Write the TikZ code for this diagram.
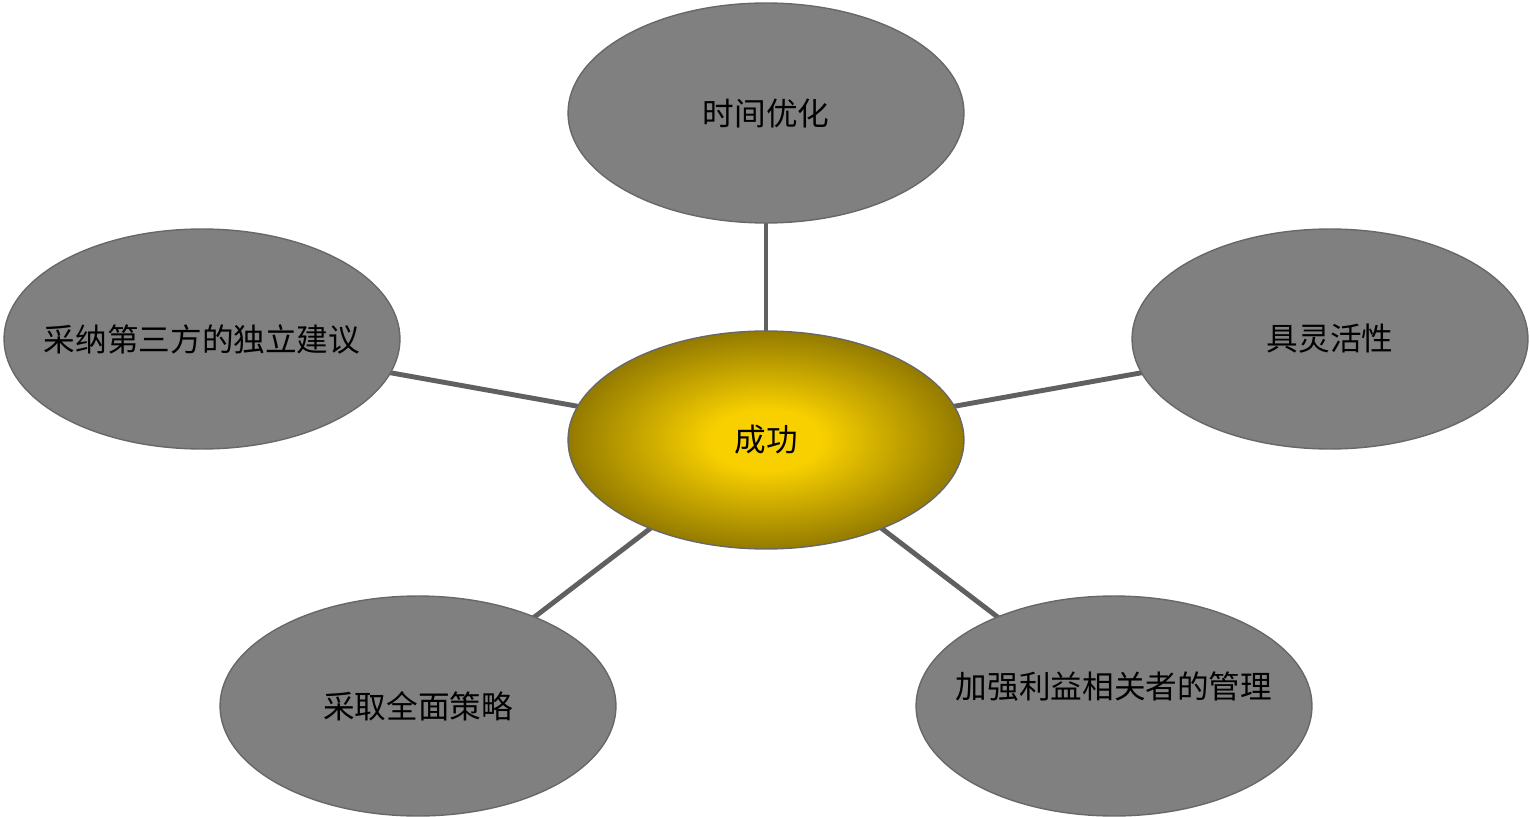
\documentclass[tikz,border=0pt]{standalone}
\usepackage{fontspec}
\newfontfamily\cjk{Noto Sans CJK SC}
\usetikzlibrary{shapes.geometric}
\definecolor{leafgrey}{HTML}{808080}
\definecolor{rimgrey}{HTML}{686868}
\definecolor{linkgrey}{HTML}{606060}
\definecolor{goldcore}{HTML}{F8D000}
\definecolor{goldrim}{HTML}{786300}
\pgfdeclareradialshading{goldglow}{\pgfpoint{0bp}{0bp}}{%
  color(0bp)=(goldcore); color(7bp)=(goldcore); color(30bp)=(goldrim); color(50bp)=(goldrim)}
\newcommand{\nowidth}[1]{\makebox[0pt][c]{#1}}
\tikzset{
  leaf/.style={ellipse, draw=rimgrey, line width=0.8pt, fill=leafgrey,
    minimum width=7.92cm, minimum height=4.4cm, inner sep=0pt,
    font=\cjk\fontsize{18pt}{20pt}\selectfont, text=black},
  hub/.style={ellipse, draw=rimgrey, line width=0.8pt, shading=goldglow,
    minimum width=7.92cm, minimum height=4.36cm, inner sep=0pt,
    font=\cjk\fontsize{18pt}{20pt}\selectfont, text=black},
  link/.style={draw=linkgrey, line width=2.8pt}
}
\begin{document}
\begin{tikzpicture}[x=0.02cm, y=-0.02cm]
  \useasboundingbox (0,0) rectangle (1530,817);
  % connectors behind the ellipses
  \coordinate (cT) at (766,113);
  \coordinate (cL) at (202,339);
  \coordinate (cR) at (1330,339);
  \coordinate (cBL) at (418,706);
  \coordinate (cBR) at (1114,706);
  \coordinate (cC) at (766,440);
  \draw[link] (cC) -- (cT);
  \draw[link] (cC) -- (cL);
  \draw[link] (cC) -- (cR);
  \draw[link] (cC) -- (cBL);
  \draw[link] (cC) -- (cBR);
  % outer ideas
  \node[leaf] (top) at (cT) {\nowidth{时间优化}};
  \node[leaf] (left) at (cL) {\nowidth{采纳第三方的独立建议}};
  \node[leaf] (right) at (cR) {\nowidth{具灵活性}};
  \node[leaf] (bl) at (cBL) {\nowidth{采取全面策略}};
  \node[leaf, label={[font=\cjk\fontsize{18pt}{20pt}\selectfont, yshift=0.38cm]center:加强利益相关者的管理}] (br) at (cBR) {};
  % central idea
  \node[hub] (hub) at (cC) {\nowidth{成功}};
\end{tikzpicture}
\end{document}
